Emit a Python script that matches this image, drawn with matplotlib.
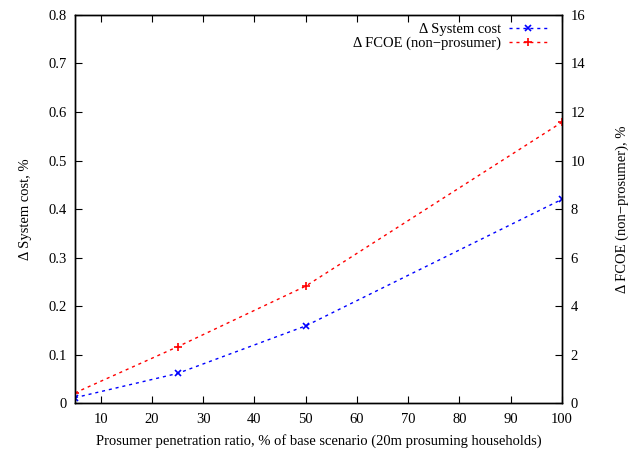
import matplotlib.pyplot as plt

plt.rcParams['font.family'] = ['Liberation Serif', 'DejaVu Serif']
plt.rcParams['font.size'] = 10.5

# penetration ratio, % of base scenario
ratio = [5, 25, 50, 100]
# change in system cost, % (left axis)
sys_cost = [0.011, 0.061, 0.159, 0.42]
# change in FCOE for non-prosumers, % (right axis)
fcoe = [0.42, 2.32, 4.82, 11.58]

xticks = [10, 20, 30, 40, 50, 60, 70, 80, 90, 100]

fig = plt.figure(figsize=(6.38, 4.49), dpi=100)
ax = fig.add_axes([0.1176, 0.1024, 0.7633, 0.8642])
ax2 = ax.twinx()

l1, = ax.plot(ratio, sys_cost, color='blue', ls=(0, (2.2, 2.8)), lw=1.0,
              marker='x', ms=5, mew=1.2, label='\u0394 System cost')
l2, = ax2.plot(ratio, fcoe, color='red', ls=(0, (2.2, 2.8)), lw=1.0,
               marker='+', ms=6, mew=1.2, label='\u0394 FCOE (non\u2212prosumer)')

ax.set_xlim(5, 100)
ax.set_ylim(0, 0.8)
ax2.set_ylim(0, 16)
ax.set_xticks(xticks)
ax.set_yticks([0, 0.1, 0.2, 0.3, 0.4, 0.5, 0.6, 0.7, 0.8])
ax.set_yticklabels(['0', '0.1', '0.2', '0.3', '0.4', '0.5', '0.6', '0.7', '0.8'])
ax2.set_yticks(range(0, 17, 2))

ax.tick_params(axis='x', direction='in', top=True, length=5, width=0.8, pad=7)
ax.tick_params(axis='y', direction='in', length=5, width=0.8, pad=6)
ax2.tick_params(axis='y', direction='in', length=5, width=0.8, pad=6)
for a in (ax, ax2):
    for s in a.spines.values():
        s.set_linewidth(1.0)

ax.set_xlabel('Prosumer penetration ratio, % of base scenario (20m prosuming households)',
              labelpad=6)
ax.set_ylabel('\u0394 System cost, %', labelpad=12)
ax2.set_ylabel('\u0394 FCOE (non\u2212prosumer), %', labelpad=22)

ax2.legend(handles=[l1, l2], loc='upper right', bbox_to_anchor=(0.985, 1.0),
           frameon=False, markerfirst=False, handlelength=2.6, handletextpad=0.5,
           labelspacing=0.05, borderaxespad=0.15)

fig.savefig('out.png', dpi=100)
